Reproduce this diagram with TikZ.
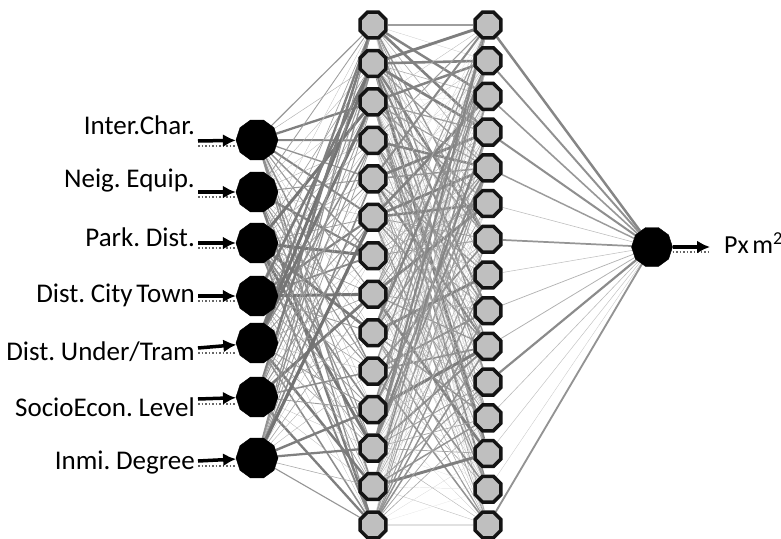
\documentclass[tikz,border=0pt]{standalone}
\usepackage{fontspec}
\setmainfont{Carlito}[WordSpace=0.6]
\usetikzlibrary{calc, positioning, arrows, arrows.meta, shapes, backgrounds}

\begin{document}
\begin{tikzpicture}[x=1pt, y=-1pt,
        innode/.style={regular polygon, regular polygon sides=10, fill=black, draw=black, inner sep=0pt, minimum size=42pt},
        hidnode/.style={regular polygon, regular polygon sides=8, fill=black!25, draw=black!92, line width=3.5pt, inner sep=0pt, minimum size=28pt},
        lbl/.style={anchor=east, font=\fontsize{27}{32}\selectfont, inner sep=0pt},
        feed/.style={line width=3.5pt, -{Latex[length=13pt,width=13pt]}},
        trail/.style={dotted, line width=1.5pt, black!60}]
        \useasboundingbox (0,0) rectangle (781,538);

        % inputs
        \node[innode] (in1) at (257,140) {};
        \node[innode] (in2) at (257,192) {};
        \node[innode] (in3) at (257,243) {};
        \node[innode] (in4) at (257,296) {};
        \node[innode] (in5) at (257,343) {};
        \node[innode] (in6) at (257,397) {};
        \node[innode] (in7) at (257,458) {};

        \node[lbl] (l1) at (195,125) {Inter.Char.};
        \node[lbl] (l2) at (195,181) {Neig. Equip.};
        \node[lbl] (l3) at (195,237) {Park. Dist.};
        \node[lbl] (l4) at (195,295) {Dist. City Town};
        \node[lbl] (l5) at (195,352) {Dist. Under/Tram};
        \node[lbl] (l6) at (195,407) {SocioEcon. Level};
        \node[lbl] (l7) at (195,463) {Inmi. Degree};

        % hidden layers
        \foreach \j in {1,...,14}
            \node[hidnode] (a\j) at (373,{25+(\j-1)*38.46}) {};
        \foreach \k in {1,...,15}
            \node[hidnode] (b\k) at (488,{25+(\k-1)*35.71}) {};

        % output
        \node[innode, minimum size=41pt] (out) at (652,247) {};
        \node[anchor=west, font=\fontsize{26}{30}\selectfont, inner sep=0pt] (pl) at (724,243) {Px m\textsuperscript{2}};
        \coordinate (oend) at (710,247);
        \draw[trail] ($(out.east)+(0,5)$) -- ($(oend)+(0,5)$);
        \draw[feed] (out) -- (oend);

        \foreach \i/\y in {1/141,2/192,3/243,4/296,5/348,6/399,7/461} {
            \coordinate (s\i) at (198,\y);
            \draw[trail] ($(s\i)+(0,5)$) -- ++(38,0);
            \draw[feed] (s\i) -- (in\i);
        }

        \pgfmathsetseed{41}
        \begin{pgfonlayer}{background}
            \foreach \i in {1,...,7}
                \foreach \j in {1,...,14} {
                    \pgfmathsetmacro\w{rnd}
                    \pgfmathsetmacro\lw{0.3+2.9*\w*\w}
                    \pgfmathsetmacro\sh{25+30*\w}
                    \draw[line width=\lw pt, black!\sh] (in\i) -- (a\j);
                }
            \foreach \j in {1,...,14}
                \foreach \k in {1,...,15} {
                    \pgfmathsetmacro\w{rnd}
                    \pgfmathsetmacro\lw{0.2+3*\w*\w*\w}
                    \pgfmathsetmacro\sh{12+40*\w}
                    \draw[line width=\lw pt, black!\sh] (a\j) -- (b\k);
                }
            \foreach \k in {1,...,15} {
                \pgfmathsetmacro\w{rnd}
                \pgfmathsetmacro\lw{0.3+2.5*\w*\w}
                \pgfmathsetmacro\sh{15+35*\w}
                \draw[line width=\lw pt, black!\sh] (b\k) -- (out);
            }
        \end{pgfonlayer}
    \end{tikzpicture}
\end{document}
